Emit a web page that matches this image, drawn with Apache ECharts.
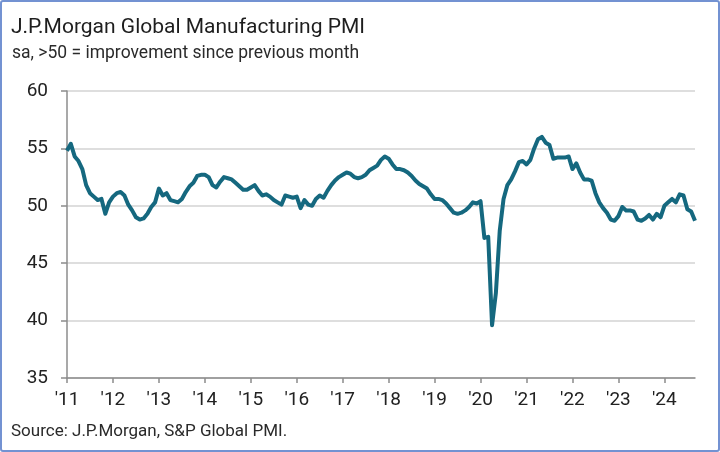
<!DOCTYPE html>
<html>
<head>
<meta charset="utf-8">
<script src="https://cdn.jsdelivr.net/npm/echarts@6/dist/echarts.min.js"></script>
<style>
  html, body { margin: 0; padding: 0; background: #fff; }
  #wrap { position: relative; width: 720px; height: 452px; }
  #chart { width: 720px; height: 452px; }
  #frame {
    position: absolute; left: 0; top: 0; width: 720px; height: 452px;
    box-sizing: border-box; border: 2px solid #7392d2; border-radius: 3px;
    pointer-events: none;
  }
</style>
</head>
<body>
<div id="wrap">
  <div id="chart"></div>
  <div id="frame"></div>
</div>
<script>
// 年份（类目按月生成）
var years = [2011, 2012, 2013, 2014, 2015, 2016, 2017, 2018, 2019, 2020, 2021, 2022, 2023, 2024];

// PMI 月度值，按年读图估计
var pmi2011 = [54.8, 55.4, 54.3, 53.9, 53.2, 51.8, 51.1, 50.8, 50.5, 50.6, 49.3, 50.3];
var pmi2012 = [50.8, 51.1, 51.2, 50.9, 50.1, 49.6, 49.0, 48.8, 48.9, 49.3, 49.9, 50.3];
var pmi2013 = [51.5, 50.9, 51.1, 50.5, 50.4, 50.3, 50.6, 51.2, 51.7, 52.0, 52.6, 52.7];
var pmi2014 = [52.7, 52.5, 51.8, 51.6, 52.1, 52.5, 52.4, 52.3, 52.0, 51.7, 51.4, 51.4];
var pmi2015 = [51.6, 51.8, 51.3, 50.9, 51.0, 50.8, 50.5, 50.3, 50.1, 50.9, 50.8, 50.7];
var pmi2016 = [50.8, 49.8, 50.5, 50.1, 50.0, 50.6, 50.9, 50.7, 51.3, 51.8, 52.2, 52.5];
var pmi2017 = [52.7, 52.9, 52.8, 52.5, 52.4, 52.5, 52.7, 53.1, 53.3, 53.5, 54.0, 54.3];
var pmi2018 = [54.1, 53.6, 53.2, 53.2, 53.1, 52.9, 52.6, 52.2, 51.9, 51.7, 51.5, 51.0];
var pmi2019 = [50.6, 50.6, 50.5, 50.2, 49.8, 49.4, 49.3, 49.4, 49.6, 49.9, 50.3, 50.2];
var pmi2020 = [50.4, 47.2, 47.3, 39.6, 42.4, 47.8, 50.6, 51.8, 52.3, 53.0, 53.8, 53.9];
var pmi2021 = [53.6, 54.0, 55.0, 55.8, 56.0, 55.5, 55.3, 54.1, 54.2, 54.2, 54.2, 54.3];
var pmi2022 = [53.2, 53.7, 52.9, 52.3, 52.3, 52.2, 51.1, 50.3, 49.8, 49.4, 48.8, 48.7];
var pmi2023 = [49.1, 49.9, 49.6, 49.6, 49.5, 48.8, 48.7, 48.9, 49.2, 48.8, 49.3, 49.0];
var pmi2024 = [50.0, 50.3, 50.6, 50.3, 51.0, 50.9, 49.7, 49.5, 48.7];

var yTicks = [35, 40, 45, 50, 55, 60];

var titleText = 'J.P.Morgan Global Manufacturing PMI';
var subText = 'sa, >50 = improvement since previous month';
var sourceText = 'Source: J.P.Morgan, S&P Global PMI.';

var fontFamily = 'Roboto, "Open Sans", sans-serif';

function renderChart() {
  var byYear = [pmi2011, pmi2012, pmi2013, pmi2014, pmi2015, pmi2016, pmi2017,
    pmi2018, pmi2019, pmi2020, pmi2021, pmi2022, pmi2023, pmi2024];
  var months = [];
  var values = [];
  byYear.forEach(function (arr, k) {
    arr.forEach(function (v, m) {
      months.push(years[k] + '-' + (m < 9 ? '0' : '') + (m + 1));
      values.push(v);
    });
  });

  // 只在每年一月画刻度和标签
  var isJan = function (index, value) {
    return value.slice(5) === '01';
  };

  var myChart = echarts.init(document.getElementById('chart'));
  var options = {
    backgroundColor: '#fff',
    animation: false,
    graphic: [{
      type: 'text',
      x: 11, y: 28,
      style: { text: titleText, font: '21px ' + fontFamily, fill: '#1e1e1e', verticalAlign: 'middle' }
    }, {
      type: 'text',
      x: 12, y: 54,
      style: { text: subText, font: '17.5px ' + fontFamily, fill: '#2a2a2a', verticalAlign: 'middle' }
    }, {
      type: 'text',
      x: 11, y: 431.5,
      style: { text: sourceText, font: '17px ' + fontFamily, fill: '#2a2a2a', verticalAlign: 'middle' }
    }],
    grid: { left: 67, right: 25, top: 91, bottom: 74 },
    xAxis: {
      type: 'category',
      data: months,
      boundaryGap: false,
      axisLine: { lineStyle: { color: '#8c8c8c', width: 1.5 } },
      axisTick: { interval: isJan, length: 5, lineStyle: { color: '#8c8c8c', width: 1.5 } },
      axisLabel: {
        interval: isJan,
        margin: 13,
        fontFamily: fontFamily,
        fontSize: 19,
        color: '#222',
        formatter: function (v) { return "'" + v.slice(2, 4); }
      },
      splitLine: { show: false }
    },
    yAxis: {
      type: 'value',
      min: yTicks[0],
      max: yTicks[yTicks.length - 1],
      interval: 5,
      axisLine: { show: true, lineStyle: { color: '#8c8c8c', width: 1.5 } },
      axisTick: { show: true, length: 6, lineStyle: { color: '#8c8c8c', width: 1.5 } },
      axisLabel: { margin: 19, fontFamily: fontFamily, fontSize: 19, color: '#222' },
      splitLine: { lineStyle: { color: '#d3d3d3', width: 1.5 } }
    },
    series: [{
      type: 'line',
      data: values,
      showSymbol: false,
      lineStyle: { color: '#15687f', width: 4, join: 'round' }
    }]
  };
  myChart.setOption(options, true);
}

renderChart();
</script>
</body>
</html>
